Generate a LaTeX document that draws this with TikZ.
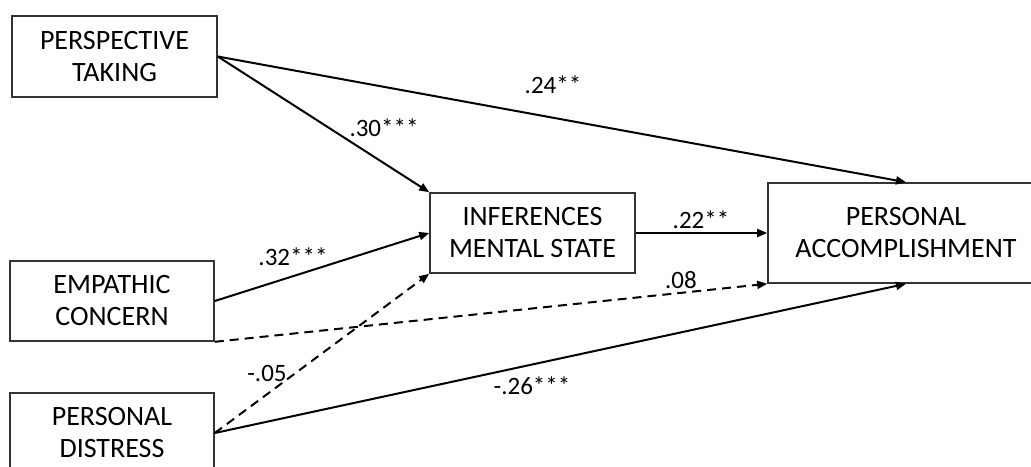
\documentclass[tikz,border=0pt]{standalone}
\usepackage{fontspec}
\setmainfont{Carlito}
\usetikzlibrary{arrows.meta}
\begin{document}
\begin{tikzpicture}[x=1pt,y=-1pt,
  box/.style={draw=black!80,line width=1.6pt,fill=white,align=center,inner sep=0pt,
    font=\fontsize{28}{32}\selectfont},
  path/.style={line width=2pt,-{Triangle[length=10pt,width=8pt]}},
  npath/.style={path,dash pattern=on 9pt off 6pt},
  coef/.style={font=\fontsize{25}{28}\selectfont,inner sep=0pt}]
\useasboundingbox (0,0) rectangle (1031,466);
\clip (0,0) rectangle (1031,466);

% variables
\node[box,minimum width=205pt,minimum height=81pt] (pt) at (114.5,56.5) {PERSPECTIVE\\TAKING};
\node[box,minimum width=204pt,minimum height=80pt] (ec) at (112,301) {EMPATHIC\\CONCERN};
\node[box,minimum width=204pt,minimum height=80pt] (pd) at (112,433) {PERSONAL\\DISTRESS};
\node[box,minimum width=205pt,minimum height=80pt] (ims) at (532.5,233) {INFERENCES\\MENTAL STATE};
\node[box,minimum width=276pt,minimum height=100pt] (pa) at (906,233) {PERSONAL\\ACCOMPLISHMENT};

% paths
\draw[path] (pt.east) -- (pa.north);
\draw[path] (pt.east) -- (ims.north west);
\draw[path] (ec.east) -- (ims.west);
\draw[npath] (ec.south east) -- (pa.south west);
\draw[npath] (pd.east) -- (ims.south west);
\draw[path] (pd.east) -- (pa.south);
\draw[path] (ims.east) -- (pa.west);

% coefficients
\node[coef] (c1) at (553,85) {.24**};
\node[coef] (c2) at (384,128) {.30***};
\node[coef] (c3) at (293,257) {.32***};
\node[coef] (c4) at (701,220) {.22**};
\node[coef] (c5) at (681,280) {.08};
\node[coef] (c6) at (267,373) {-.05};
\node[coef] (c7) at (532,386) {-.26***};
\end{tikzpicture}
\end{document}
